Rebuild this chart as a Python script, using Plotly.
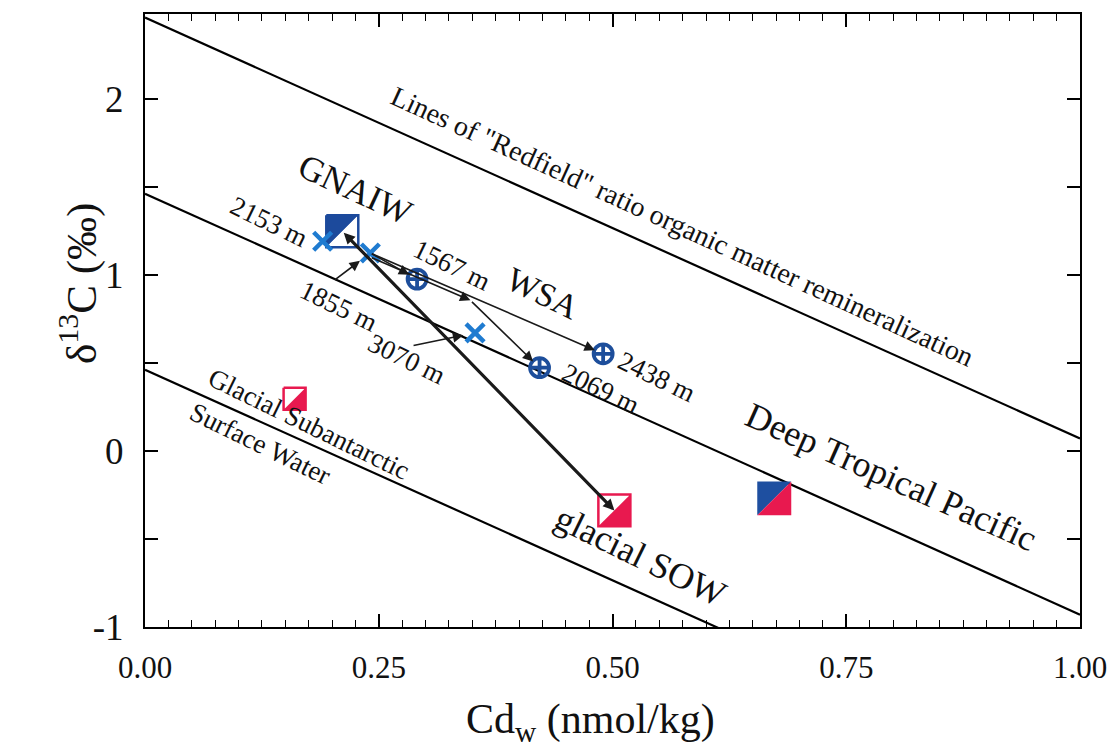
import plotly.graph_objects as go

# ---------------- data ----------------
# Redfield-ratio remineralization lines: d13C = intercept + slope * Cd
line_intercepts = [2.46, 1.46, 0.46]
line_slope = -2.39

# end-member squares
em_names = ["GNAIW", "glacial SOW", "Deep Tropical Pacific", "Glacial Subantarctic Surface Water"]
em_cd = [0.211, 0.502, 0.673, 0.160]
em_d13c = [1.247, -0.338, -0.270, 0.296]
em_size = [32, 32, 34, 22]
em_upper = ["#1C4A9C", "white", "#1E4FA0", "white"]      # upper-left half
em_lower = ["white", "#E8194F", "#E8194F", "#E8194F"]    # lower-right half
em_edge = ["#1C4A9C", "#E8194F", None, "#E8194F"]

# cross markers (depths)
x_depths = ["2153 m", "1855 m", "3070 m"]
x_cd = [0.190, 0.241, 0.353]
x_d13c = [1.190, 1.123, 0.670]

# circle-cross markers (depths)
o_depths = ["1567 m", "2069 m", "2438 m"]
o_cd = [0.291, 0.422, 0.490]
o_d13c = [0.975, 0.472, 0.551]

# axis ticks
x_ticks = [0.0, 0.25, 0.5, 0.75, 1.0]
x_ticktext = ["0.00", "0.25", "0.50", "0.75", "1.00"]
y_ticks = [-1, 0, 1, 2]
y_ticktext = ["-1", "0", "1", "2"]

# text labels: text, x, y, size, angle
labels = [
    ('Lines of "Redfield" ratio organic matter remineralization', 0.575, 1.272, 28, 24.5),
    ("GNAIW", 0.2246, 1.485, 35, 25),
    ("2153 m", 0.133, 1.298, 27, 26),
    ("1567 m", 0.328, 1.054, 27, 26),
    ("WSA", 0.426, 0.896, 34, 26),
    ("1855 m", 0.207, 0.823, 27, 26),
    ("3070 m", 0.280, 0.523, 27, 26),
    ("2438 m", 0.548, 0.421, 27, 26),
    ("2069 m", 0.488, 0.353, 27, 26),
    ("Deep Tropical Pacific", 0.798, -0.151, 36, 24),
    ("glacial SOW", 0.530, -0.598, 36, 26),
    ("Glacial Subantarctic", 0.175, 0.150, 27, 26),
    ("Surface Water", 0.124, 0.041, 27, 26),
]

# ---------------- layout geometry ----------------
# the page body has an 8px margin, so the figure is drawn 8px smaller
W, H = 1111, 743
ML, MR, MT, MB = 137, 39, 4, 124
XR = [0.0, 1.0]
YR = [-1.0, 2.48]
PW, PH = W - ML - MR, H - MT - MB
DX = (XR[1] - XR[0]) / PW
DY = (YR[1] - YR[0]) / PH

FONT = "Liberation Serif"
BLUE_X = "#1F7BD0"
BLUE_O = "#1D4E9B"

fig = go.Figure()

# Redfield lines
for b in line_intercepts:
    fig.add_trace(go.Scatter(x=XR, y=[b + line_slope * XR[0], b + line_slope * XR[1]],
                             mode="lines", line=dict(color="black", width=2.2),
                             hoverinfo="skip", showlegend=False))

# half-filled squares
for cx, cy, s, up, lo, ed in zip(em_cd, em_d13c, em_size, em_upper, em_lower, em_edge):
    hx, hy = s / 2 * DX, s / 2 * DY
    tl, tr = (cx - hx, cy + hy), (cx + hx, cy + hy)
    bl, br = (cx - hx, cy - hy), (cx + hx, cy - hy)
    for tri, col in (([tl, tr, bl], up), ([tr, br, bl], lo)):
        fig.add_trace(go.Scatter(x=[p[0] for p in tri] + [tri[0][0]],
                                 y=[p[1] for p in tri] + [tri[0][1]],
                                 mode="lines", fill="toself", fillcolor=col,
                                 line=dict(width=0, color=col),
                                 hoverinfo="skip", showlegend=False))
    if ed:
        sq = [tl, tr, br, bl, tl]
        fig.add_trace(go.Scatter(x=[p[0] for p in sq], y=[p[1] for p in sq],
                                 mode="lines", line=dict(color=ed, width=2.5),
                                 hoverinfo="skip", showlegend=False))

# X markers
fig.add_trace(go.Scatter(x=x_cd, y=x_d13c, mode="markers", text=x_depths,
                         marker=dict(symbol="x-thin-open", size=18, color=BLUE_X,
                                     line=dict(color=BLUE_X, width=4.5)),
                         showlegend=False))
# circle-cross markers
fig.add_trace(go.Scatter(x=o_cd, y=o_d13c, mode="markers", text=o_depths,
                         marker=dict(symbol="circle-cross-open", size=19, color=BLUE_O,
                                     line=dict(color=BLUE_O, width=3.8)),
                         showlegend=False))

ann = []
# thick GNAIW -> glacial SOW line
ann.append(dict(x=em_cd[1], y=em_d13c[1], ax=em_cd[0], ay=em_d13c[0],
                xref="x", yref="y", axref="x", ayref="y", text="",
                showarrow=True, arrowhead=2, arrowside="end+start",
                arrowsize=0.7, arrowwidth=3.2, arrowcolor="#1a1a1a"))
# thin arrows from the 1855 m point
thin = dict(xref="x", yref="y", axref="x", ayref="y", text="", showarrow=True,
            arrowhead=2, arrowsize=1.3, arrowwidth=1.6, arrowcolor="#1a1a1a")
ann.append(dict(thin, x=o_cd[0], y=o_d13c[0], ax=x_cd[1], ay=x_d13c[1], standoff=9))
ann.append(dict(thin, x=o_cd[2], y=o_d13c[2], ax=x_cd[1], ay=x_d13c[1], standoff=9))
frac = 0.43
bx = x_cd[1] + frac * (o_cd[2] - x_cd[1])
by = x_d13c[1] + frac * (o_d13c[2] - x_d13c[1]) - 4 * DY
ann.append(dict(thin, x=bx, y=by, ax=x_cd[1], ay=x_d13c[1] - 4 * DY))
ann.append(dict(thin, x=o_cd[1], y=o_d13c[1], ax=bx, ay=by, standoff=9))
# label leader arrows
ann.append(dict(x=x_cd[1], y=x_d13c[1], xref="x", yref="y", ax=-37, ay=28, text="",
                showarrow=True, arrowhead=2, arrowsize=1.3, arrowwidth=1.6,
                arrowcolor="#1a1a1a", standoff=13))
ann.append(dict(x=x_cd[2], y=x_d13c[2], xref="x", yref="y", ax=-63, ay=13, text="",
                showarrow=True, arrowhead=2, arrowsize=1.3, arrowwidth=1.6,
                arrowcolor="#1a1a1a", standoff=12))

for t, lx, ly, fs, ang in labels:
    ann.append(dict(x=lx, y=ly, xref="x", yref="y", text=t, showarrow=False,
                    textangle=ang, xanchor="center", yanchor="middle",
                    font=dict(family=FONT, size=fs, color="#111")))

# axis titles (screen pixel targets converted to paper coords)
ann.append(dict(x=(78 - 8 - ML) / PW, y=(MT + PH - (283 - 8)) / PH,
                xref="paper", yref="paper", xanchor="center", yanchor="middle",
                text="δ<sup>13</sup>C (‰)", showarrow=False, textangle=-90,
                font=dict(family=FONT, size=43, color="#111")))
ann.append(dict(x=(590 - 8 - ML) / PW, y=(MT + PH - (722 - 8)) / PH,
                xref="paper", yref="paper", xanchor="center", yanchor="middle",
                text="Cd<sub>w</sub> (nmol/kg)", showarrow=False,
                font=dict(family=FONT, size=42, color="#111")))

axis_common = dict(showgrid=False, zeroline=False, showline=True, linecolor="black",
                   linewidth=2, mirror="allticks", ticks="inside", tickwidth=1.6,
                   ticklen=13, tickcolor="black")
fig.update_layout(
    width=W, height=H, margin=dict(l=ML, r=MR, t=MT, b=MB),
    paper_bgcolor="white", plot_bgcolor="white",
    xaxis=dict(axis_common, range=XR, tickvals=x_ticks, ticktext=x_ticktext,
               tickfont=dict(family=FONT, size=31, color="#111"),
               minor=dict(ticks="inside", dtick=0.025, ticklen=7, tickwidth=1.3,
                          tickcolor="black"),
               ticklabelstandoff=12),
    yaxis=dict(axis_common, range=YR, tickvals=y_ticks, ticktext=y_ticktext,
               tickfont=dict(family=FONT, size=37, color="#111"),
               minor=dict(ticks="inside", dtick=0.5, ticklen=13, tickwidth=1.6,
                          tickcolor="black"),
               ticklabelstandoff=12),
    annotations=ann,
)

fig.write_html("out.html")
